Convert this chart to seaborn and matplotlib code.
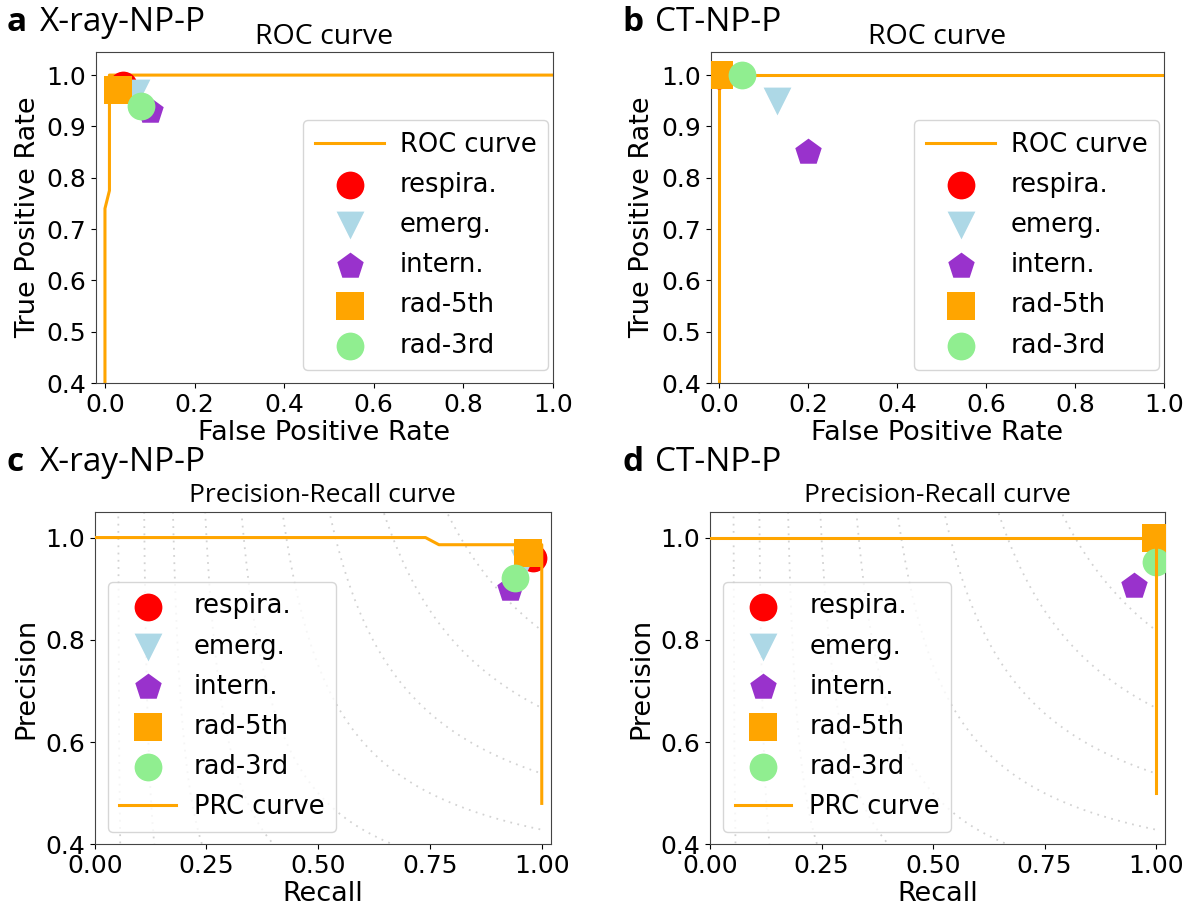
import matplotlib
matplotlib.use("Agg")
import matplotlib.pyplot as plt
import seaborn as sns
import numpy as np
import pandas as pd

# ---------------- data ----------------
raters = ["respira.", "emerg.", "intern.", "rad-5th", "rad-3rd"]
rater_markers = ["o", "v", "p", "s", "o"]
rater_colors = ["red", "lightblue", "darkorchid", "orange", "lightgreen"]

# ROC curves
roc_a_fpr = [0.0, 0.0, 0.01, 0.01, 1.0]
roc_a_tpr = [0.0, 0.74, 0.775, 1.0, 1.0]
roc_b_fpr = [0.0, 0.0, 1.0]
roc_b_tpr = [0.0, 1.0, 1.0]

# rater operating points on ROC
a_fpr = [0.04, 0.07, 0.10, 0.03, 0.08]
a_tpr = [0.98, 0.965, 0.93, 0.97, 0.94]
b_fpr = [0.0, 0.13, 0.20, 0.0, 0.05]
b_tpr = [1.0, 0.95, 0.85, 1.0, 1.0]

# PR curves
prc_c_recall = [0.0, 0.74, 0.77, 1.0, 1.0]
prc_c_precision = [1.0, 1.0, 0.986, 0.986, 0.48]
prc_d_recall = [0.0, 1.0, 1.0]
prc_d_precision = [1.0, 1.0, 0.50]

# rater points on PR
c_recall = [0.98, 0.96, 0.93, 0.97, 0.94]
c_precision = [0.96, 0.95, 0.90, 0.97, 0.92]
d_recall = [1.0, 1.0, 0.95, 1.0, 1.0]
d_precision = [1.0, 1.0, 0.905, 1.0, 0.953]

# iso-F1 reference levels
f_scores = [0.1, 0.2, 0.3, 0.4, 0.5, 0.6, 0.7, 0.8, 0.9]

roc_xticks = [0.0, 0.2, 0.4, 0.6, 0.8, 1.0]
roc_yticks = [0.4, 0.5, 0.6, 0.7, 0.8, 0.9, 1.0]
pr_xticks = [0.0, 0.25, 0.5, 0.75, 1.0]
pr_yticks = [0.4, 0.6, 0.8, 1.0]

# ---------------- style ----------------
plt.rcParams["font.family"] = ["DejaVu Sans"]
TICK_FS = 18
LABEL_FS = 19.5
LEG_FS = 18.5
TITLE_FONT = ["Open Sans", "DejaVu Sans"]
MS = 400  # scatter area (pt^2)

W, H = 1194, 913
fig = plt.figure(figsize=(W / 100, H / 100), dpi=100)


def add_ax(l, r, t, b):
    return fig.add_axes([l / W, 1 - b / H, (r - l) / W, (b - t) / H])


ax_a = add_ax(96, 553, 52, 383)
ax_b = add_ax(710.5, 1164, 52, 383)
ax_c = add_ax(94.7, 550.7, 512, 844.3)
ax_d = add_ax(710, 1165, 512, 844.3)


def draw_points(ax, xs, ys):
    for name, m, c, x, y in zip(raters, rater_markers, rater_colors, xs, ys):
        sns.scatterplot(x=[x], y=[y], ax=ax, marker=m, color=c, s=MS,
                        linewidth=0, label=name, zorder=3)


def draw_curve(ax, xs, ys, label, z):
    df = pd.DataFrame({"x": xs, "y": ys})
    sns.lineplot(data=df, x="x", y="y", ax=ax, color="orange", lw=2.2,
                 sort=False, estimator=None, label=label, zorder=z)


def draw_iso_f1(ax):
    xg = np.linspace(0.01, 1.0, 400)
    for f in f_scores:
        yg = f * xg / (2 * xg - f)
        mask = yg >= 0
        df = pd.DataFrame({"x": xg[mask], "y": yg[mask]})
        sns.lineplot(data=df, x="x", y="y", ax=ax, color="gray", alpha=0.35,
                     lw=1.3, linestyle=(0, (1, 3)), sort=False, estimator=None,
                     legend=False, zorder=1)


LEG_KW = dict(fontsize=LEG_FS, frameon=True,
              labelspacing=0.55, borderpad=0.45, borderaxespad=0.0)


def finish_roc(ax):
    ax.set_xlim(-0.02, 1.0)
    ax.set_ylim(0.4, 1.045)
    ax.set_xticks(roc_xticks)
    ax.set_yticks(roc_yticks)
    ax.set_xticklabels([f"{v:.1f}" for v in roc_xticks])
    ax.set_yticklabels([f"{v:.1f}" for v in roc_yticks])
    ax.set_xlabel("False Positive Rate", fontsize=LABEL_FS, labelpad=2)
    ax.set_ylabel("True Positive Rate", fontsize=LABEL_FS, labelpad=4)
    ax.set_title("ROC curve", fontsize=20.5, family=TITLE_FONT, pad=6)
    ax.tick_params(labelsize=TICK_FS)
    ax.legend(loc="lower right", bbox_to_anchor=(0.989, 0.039),
              handlelength=2.7, handletextpad=0.6, **LEG_KW)


def finish_pr(ax):
    ax.set_xlim(0.0, 1.02)
    ax.set_ylim(0.4, 1.05)
    ax.set_xticks(pr_xticks)
    ax.set_yticks(pr_yticks)
    ax.set_xticklabels([f"{v:.2f}" for v in pr_xticks])
    ax.set_yticklabels([f"{v:.1f}" for v in pr_yticks])
    ax.set_xlabel("Recall", fontsize=LABEL_FS, labelpad=2)
    ax.set_ylabel("Precision", fontsize=LABEL_FS, labelpad=4)
    ax.set_title("Precision-Recall curve", fontsize=19, family=TITLE_FONT, pad=7)
    ax.tick_params(labelsize=TICK_FS)
    ax.legend(loc="lower left", bbox_to_anchor=(0.029, 0.038),
              handlelength=2.2, handletextpad=0.7, **LEG_KW)


# panel a
draw_curve(ax_a, roc_a_fpr, roc_a_tpr, "ROC curve", 2)
draw_points(ax_a, a_fpr, a_tpr)
finish_roc(ax_a)

# panel b
draw_curve(ax_b, roc_b_fpr, roc_b_tpr, "ROC curve", 2)
draw_points(ax_b, b_fpr, b_tpr)
finish_roc(ax_b)

# panel c
draw_iso_f1(ax_c)
draw_points(ax_c, c_recall, c_precision)
draw_curve(ax_c, prc_c_recall, prc_c_precision, "PRC curve", 4)
finish_pr(ax_c)

# panel d
draw_iso_f1(ax_d)
draw_points(ax_d, d_recall, d_precision)
draw_curve(ax_d, prc_d_recall, prc_d_precision, "PRC curve", 4)
finish_pr(ax_d)

for ax in (ax_a, ax_b, ax_c, ax_d):
    for s in ax.spines.values():
        s.set_color("#444444")

# panel labels
def panel_label(x, y, letter, text):
    fig.text(x / W, 1 - y / H, letter, fontsize=24, fontweight="bold",
             family=TITLE_FONT, va="baseline", ha="left")
    fig.text((x + 33) / W, 1 - y / H, text, fontsize=24,
             family=TITLE_FONT, va="baseline", ha="left")

panel_label(7, 31, "a", "X-ray-NP-P")
panel_label(622, 31, "b", "CT-NP-P")
panel_label(7, 471, "c", "X-ray-NP-P")
panel_label(622, 471, "d", "CT-NP-P")

fig.savefig("out.png", dpi=100)
